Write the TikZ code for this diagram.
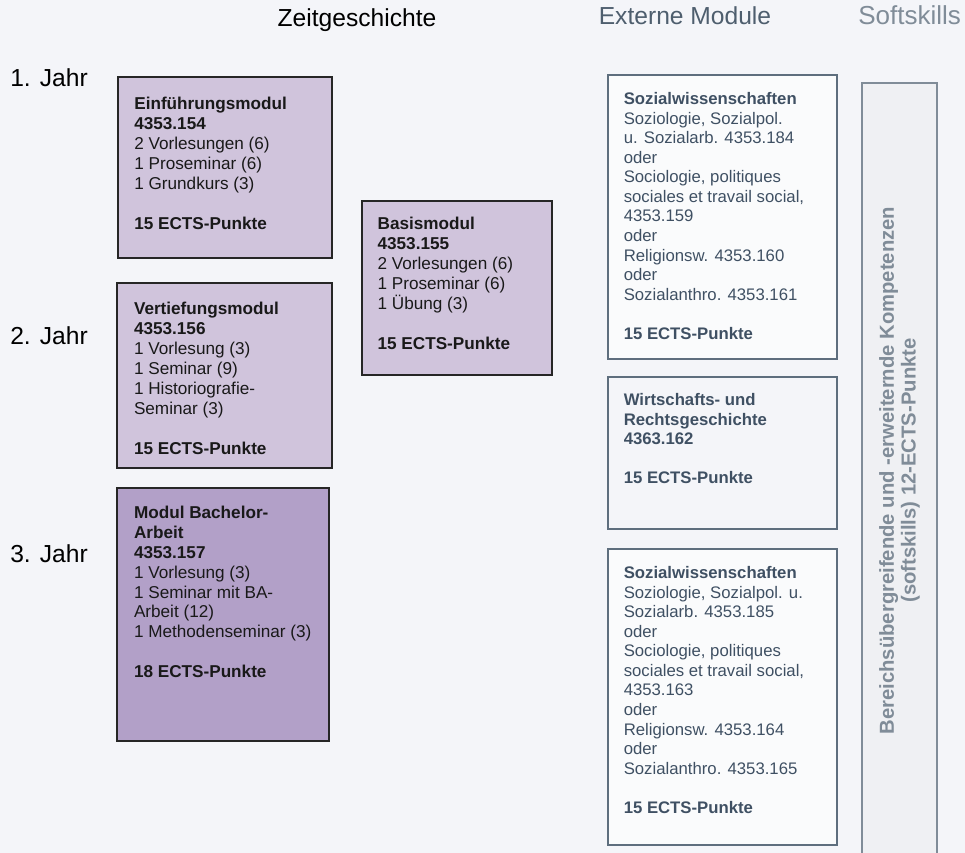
\documentclass[tikz,border=0pt]{standalone}
\usepackage{fontspec}
\setmainfont{Liberation Sans}
\usetikzlibrary{fit}

\definecolor{bgcol}{HTML}{F4F5F9}
\definecolor{lila}{HTML}{D0C4DC}
\definecolor{lilaDark}{HTML}{B2A0C8}
\definecolor{slate}{HTML}{5E6E7E}
\definecolor{slateText}{HTML}{3F5063}
\definecolor{extFill}{HTML}{FAFBFC}
\definecolor{skillFill}{HTML}{EFF0F3}
\definecolor{skillGray}{HTML}{808C98}
\definecolor{extHead}{HTML}{4E5E6E}

\tikzset{
  modbox/.style={draw=black!85, line width=1.2pt, fill=lila, inner sep=0pt},
  modtext/.style={anchor=north west, inner sep=0pt, align=left,
    font=\fontsize{12.2}{14.2}\selectfont, text=black!90},
  extbox/.style={draw=slate, line width=1pt, fill=extFill, inner sep=0pt},
  exttext/.style={anchor=north west, inner sep=0pt, align=left,
    font=\fontsize{11.9}{13.9}\selectfont, text=slateText},
  heading/.style={anchor=base, inner sep=0pt, font=\fontsize{17.5}{20}\selectfont},
  skillbox/.style={draw=skillGray, line width=1pt, fill=skillFill, inner sep=0pt},
}

\begin{document}
\begin{tikzpicture}[x=0.025cm, y=-0.025cm]
  \fill[bgcol] (0,0) rectangle (965,853);
  \useasboundingbox (0,0) rectangle (965,853);

  % headings
  \node[heading] (zeit) at (357,27) {Zeitgeschichte};
  \node[heading, text=extHead] (extern) at (685,25) {Externe Module};
  \node[heading, anchor=base west, text=skillGray, font=\fontsize{18.5}{20}\selectfont]
    (softhead) at (858,25) {Softskills};
  \node[heading, anchor=base west] (jahr1) at (10,87) {1. Jahr};
  \node[heading, anchor=base west] (jahr2) at (10,344) {2. Jahr};
  \node[heading, anchor=base west] (jahr3) at (10,562) {3. Jahr};

  % Zeitgeschichte modules
  \node[modbox, fit={(118,77) (332,258)}] (einf) {};
  \node[modtext] (einf-txt) at ([xshift=12pt, yshift=-14.5pt]einf.north west)
    {\textbf{Einführungsmodul}\\ \textbf{4353.154}\\ 2 Vorlesungen (6)\\
     1 Proseminar (6)\\ 1 Grundkurs (3)\\[14.2pt] \textbf{15 ECTS-Punkte}};

  \node[modbox, fit={(362,201) (552,375)}] (basis) {};
  \node[modtext] (basis-txt) at ([xshift=11.5pt, yshift=-12pt]basis.north west)
    {\textbf{Basismodul}\\ \textbf{4353.155}\\ 2 Vorlesungen (6)\\
     1 Proseminar (6)\\ 1 Übung (3)\\[14.2pt] \textbf{15 ECTS-Punkte}};

  \node[modbox, fit={(117,283) (332,468)}] (vert) {};
  \node[modtext] (vert-txt) at ([xshift=12.5pt, yshift=-14pt]vert.north west)
    {\textbf{Vertiefungsmodul}\\ \textbf{4353.156}\\ 1 Vorlesung (3)\\
     1 Seminar (9)\\ 1 Historiografie-\\ Seminar (3)\\[14.2pt] \textbf{15 ECTS-Punkte}};

  \node[modbox, fill=lilaDark, fit={(117,488) (329,741)}] (bach) {};
  \node[modtext] (bach-txt) at ([xshift=12.5pt, yshift=-13pt]bach.north west)
    {\textbf{Modul Bachelor-}\\ \textbf{Arbeit}\\ \textbf{4353.157}\\ 1 Vorlesung (3)\\
     1 Seminar mit BA-\\ Arbeit (12)\\ 1 Methodenseminar (3)\\[14.2pt] \textbf{18 ECTS-Punkte}};

  % external modules
  \node[extbox, fit={(608,75) (837,359)}] (sozA) {};
  \node[exttext] (sozA-txt) at ([xshift=11.5pt, yshift=-12.8pt]sozA.north west)
    {\textbf{Sozialwissenschaften}\\ Soziologie, Sozialpol.\\ u. Sozialarb. 4353.184\\ oder\\
     Sociologie, politiques\\ sociales et travail social,\\ 4353.159\\ oder\\
     Religionsw. 4353.160\\ oder\\ Sozialanthro. 4353.161\\[13.9pt] \textbf{15 ECTS-Punkte}};

  \node[extbox, fill=bgcol, fit={(608,377) (837,529)}] (wirt) {};
  \node[exttext] (wirt-txt) at ([xshift=11.5pt, yshift=-12pt]wirt.north west)
    {\textbf{Wirtschafts- und}\\ \textbf{Rechtsgeschichte}\\ \textbf{4363.162}\\[13.9pt]
     \textbf{15 ECTS-Punkte}};

  \node[extbox, fit={(608,549) (837,845)}] (sozB) {};
  \node[exttext] (sozB-txt) at ([xshift=11.5pt, yshift=-12.8pt]sozB.north west)
    {\textbf{Sozialwissenschaften}\\ Soziologie, Sozialpol. u.\\ Sozialarb. 4353.185\\ oder\\
     Sociologie, politiques\\ sociales et travail social,\\ 4353.163\\ oder\\
     Religionsw. 4353.164\\ oder\\ Sozialanthro. 4353.165\\[13.9pt] \textbf{15 ECTS-Punkte}};

  % softskills column
  \node[skillbox, fit={(862,83) (937,858)}] (soft) {};
  \node[rotate=90, align=center, text=skillGray, inner sep=0pt,
    font=\bfseries\fontsize{14.4}{15.6}\selectfont] (soft-txt) at (soft.center)
    {Bereichsübergreifende und -erweiternde Kompetenzen\\ (softskills) 12-ECTS-Punkte};
\end{tikzpicture}
\end{document}
